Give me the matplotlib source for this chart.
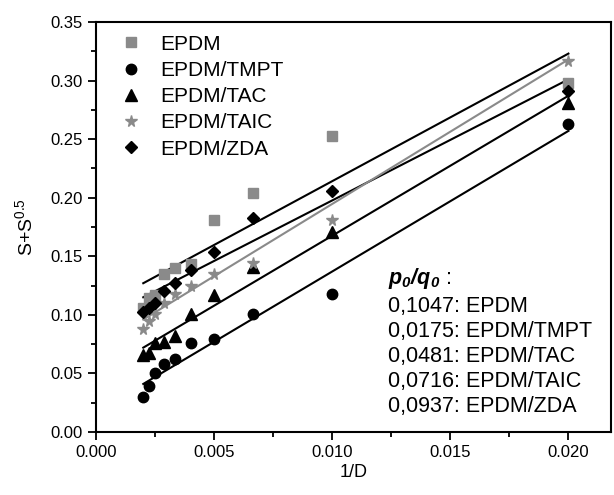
import numpy as np
import matplotlib
matplotlib.use("Agg")
import matplotlib.pyplot as plt
from matplotlib.ticker import MultipleLocator

plt.rcParams['font.family'] = ['Liberation Sans', 'DejaVu Sans']
plt.rcParams['mathtext.fontset'] = 'custom'
plt.rcParams['mathtext.rm'] = 'Liberation Sans'
plt.rcParams['mathtext.it'] = 'Liberation Sans:italic'
plt.rcParams['mathtext.bf'] = 'Liberation Sans:bold:italic'

# irradiation doses (kGy) -> 1/D
dose = np.array([500, 450, 400, 350, 300, 250, 200, 150, 100, 50])
inv_dose = 1.0 / dose

epdm = [0.106, 0.114, 0.117, 0.135, 0.140, 0.143, 0.181, 0.204, 0.253, 0.298]
tmpt = [0.030, 0.039, 0.050, 0.058, 0.062, 0.076, 0.079, 0.101, 0.118, 0.263]
tac = [0.066, 0.067, 0.076, 0.077, 0.082, 0.101, 0.117, 0.141, 0.171, 0.281]
taic = [0.088, 0.095, 0.101, 0.110, 0.118, 0.125, 0.135, 0.144, 0.181, 0.317]
zda = [0.102, 0.106, 0.110, 0.120, 0.127, 0.138, 0.154, 0.183, 0.206, 0.291]

# fitted lines, values at start / end of the fit range
fit_x = [0.002, 0.020]
fit_epdm = [0.127, 0.323]
fit_tmpt = [0.041, 0.257]
fit_tac = [0.072, 0.287]
fit_taic = [0.096, 0.318]
fit_zda = [0.115, 0.301]

ratios = ["0,1047", "0,0175", "0,0481", "0,0716", "0,0937"]
names = ["EPDM", "EPDM/TMPT", "EPDM/TAC", "EPDM/TAIC", "EPDM/ZDA"]

fig = plt.figure(figsize=(6.14, 4.95), dpi=100)
ax = fig.add_axes([0.1564, 0.1273, 0.8386, 0.8283])

gray = "#8a8a8a"
ax.plot(fit_x, fit_epdm, color="black", lw=1.5)
ax.plot(fit_x, fit_zda, color="black", lw=1.5)
ax.plot(fit_x, fit_taic, color=gray, lw=1.5)
ax.plot(fit_x, fit_tac, color="black", lw=1.5)
ax.plot(fit_x, fit_tmpt, color="black", lw=1.5)

ax.plot(inv_dose, epdm, "s", color=gray, ms=6.5, ls="none", label=names[0])
ax.plot(inv_dose, tmpt, "o", color="black", ms=7.5, ls="none", label=names[1])
ax.plot(inv_dose, tac, "^", color="black", ms=8, ls="none", label=names[2])
ax.plot(inv_dose, taic, "*", color=gray, ms=8.5, ls="none", label=names[3])
ax.plot(inv_dose, zda, "D", color="black", ms=6.5, ls="none", label=names[4])

ax.legend(loc="upper left", bbox_to_anchor=(0.0, 1.015), frameon=False,
          fontsize=15, handletextpad=0.6, handlelength=1.6,
          labelspacing=0.35, borderaxespad=0.5)

ax.text(0.01235, 0.131, r"$\mathbf{p_0/q_0}$ :", fontsize=15.5, va="center")
for i in range(len(ratios)):
    ax.text(0.01235, 0.107 - i * 0.0213, ratios[i] + ": " + names[i],
            fontsize=15.5, va="center")

ax.set_xlim(0.0, 0.0218)
ax.set_ylim(0.0, 0.35)
ax.xaxis.set_major_locator(MultipleLocator(0.005))
ax.xaxis.set_minor_locator(MultipleLocator(0.0025))
ax.yaxis.set_major_locator(MultipleLocator(0.05))
ax.yaxis.set_minor_locator(MultipleLocator(0.025))
ax.xaxis.set_major_formatter(matplotlib.ticker.FormatStrFormatter("%.3f"))
ax.yaxis.set_major_formatter(matplotlib.ticker.FormatStrFormatter("%.2f"))
ax.tick_params(which="major", direction="out", length=6, width=1.3, labelsize=12)
ax.tick_params(which="minor", direction="out", length=3.5, width=1.3)
for s in ax.spines.values():
    s.set_linewidth(1.5)

ax.set_xlabel("1/D", fontsize=13, labelpad=3)
ax.set_ylabel(r"S+S$^{0.5}$", fontsize=14, labelpad=10)

fig.savefig("out.png", dpi=100)
